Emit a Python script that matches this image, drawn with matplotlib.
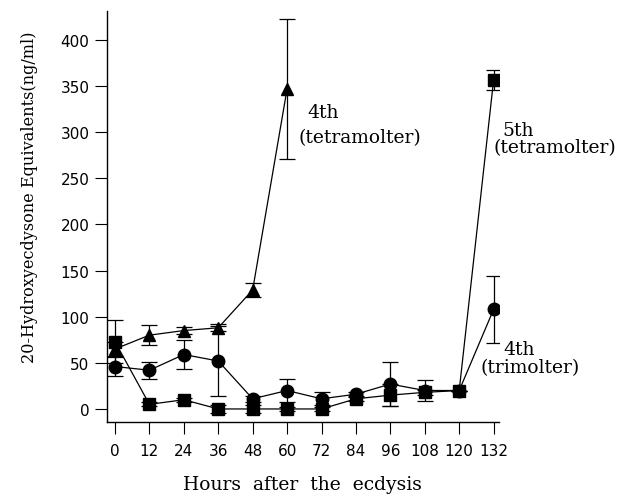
import matplotlib
matplotlib.use("Agg")
import matplotlib.pyplot as plt

# hours after the ecdysis
hours = [0, 12, 24, 36, 48, 60, 72, 84, 96, 108, 120, 132]
x_ticks = [0, 12, 24, 36, 48, 60, 72, 84, 96, 108, 120, 132]
y_ticks = [0, 50, 100, 150, 200, 250, 300, 350, 400]

# 4th instar tetramolter (triangles), only measured up to 60 h
tetra4_hours = [0, 12, 24, 36, 48, 60]
tetra4 = [65, 80, 85, 88, 129, 347]
tetra4_err = [8, 11, 4, 4, 8, 76]

# 4th instar trimolter (circles)
tri4 = [46, 42, 59, 52, 11, 20, 11, 16, 27, 20, 20, 108]
tri4_err = [10, 9, 16, 38, 3, 13, 7, 2, 24, 11, 0, 36]

# 5th instar tetramolter (squares)
tetra5 = [73, 5, 10, 0, 0, 0, 0, 11, 15, 18, 20, 357]
tetra5_err = [23, 2, 2, 4, 4, 2, 2, 2, 12, 3, 0, 11]

# (text, x, y) for the labels next to the curves
labels = [
    ("4th", 67.2, 322),
    ("(tetramolter)", 64.0, 295),
    ("5th", 135.0, 302),
    ("(tetramolter)", 132.0, 284),
    ("4th", 135.5, 65),
    ("(trimolter)", 127.5, 45),
]

serif = "DejaVu Serif"

fig = plt.figure(figsize=(6.29, 5.02), dpi=100)
ax = fig.add_axes([0.170, 0.158, 0.623, 0.818])

common = dict(color="black", ecolor="black", elinewidth=0.9, capsize=6,
              capthick=0.9, linewidth=0.9)

ax.errorbar(tetra4_hours, tetra4, yerr=tetra4_err, marker="^", markersize=8, **common)
ax.errorbar(hours, tri4, yerr=tri4_err, marker="o", markersize=9, **common)
ax.errorbar(hours, tetra5, yerr=tetra5_err, marker="s", markersize=8, **common)

for txt, tx, ty in labels:
    ax.text(tx, ty, txt, family=serif, fontsize=13.5, ha="left", va="center",
            clip_on=False)

ax.set_xlim(-2.8, 133.8)
ax.set_ylim(-13.8, 431.4)
ax.set_xticks(x_ticks)
ax.set_yticks(y_ticks)
ax.tick_params(direction="out", length=8.5, width=0.8, labelsize=11)
ax.tick_params(axis="x", pad=7)
ax.tick_params(axis="y", pad=4)

ax.spines["top"].set_visible(False)
ax.spines["right"].set_visible(False)
ax.spines["left"].set_linewidth(1.0)
ax.spines["bottom"].set_linewidth(1.0)

ax.set_xlabel("Hours  after  the  ecdysis", family=serif, fontsize=13.5, labelpad=12)
ax.set_ylabel("20-Hydroxyecdysone Equivalents(ng/ml)", family=serif, fontsize=11.6,
              labelpad=16, y=0.55)

fig.savefig("out.png", dpi=100)
